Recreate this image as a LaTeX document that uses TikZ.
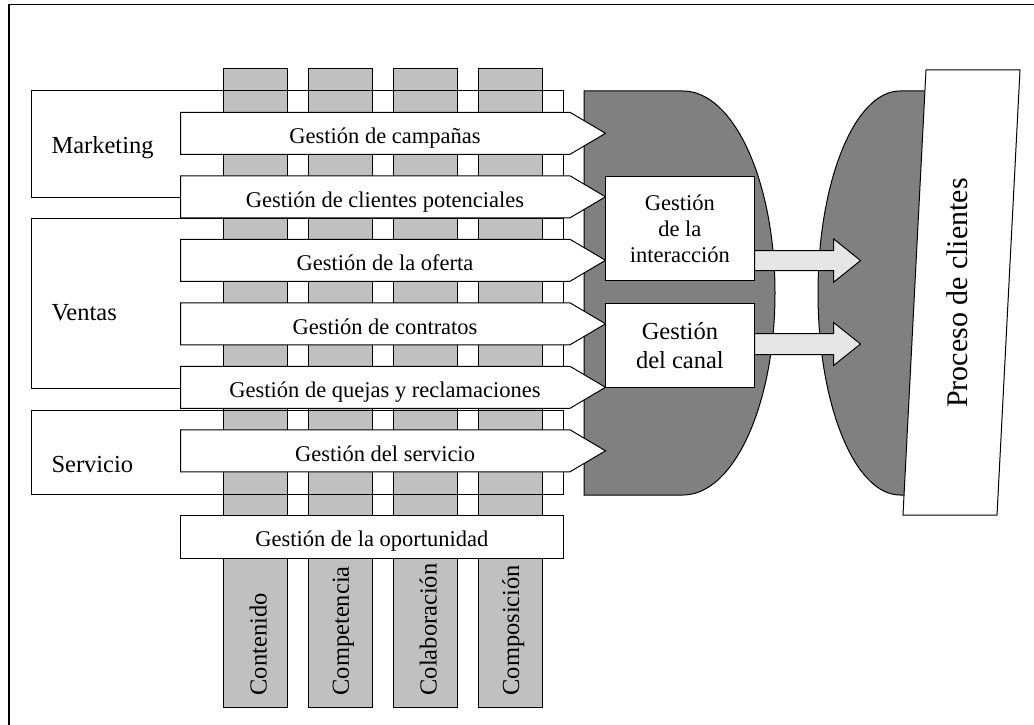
\documentclass[tikz,border=0pt]{standalone}
\usepackage{fontspec}
\setmainfont{Liberation Serif}
\definecolor{colfill}{HTML}{C0C0C0}
\definecolor{darkfill}{HTML}{808080}
\definecolor{arrowfill}{HTML}{E6E6E6}
\begin{document}
\begin{tikzpicture}[x=1pt,y=-1pt,line width=1pt,
  col/.style={draw,fill=colfill},
  dark/.style={draw,fill=darkfill},
  pent/.style={draw,fill=white},
  blockarrow/.style={draw,fill=arrowfill},
  lbl/.style={font=\fontsize{22.5}{26}\selectfont,anchor=base,inner sep=0pt},
  big/.style={font=\fontsize{24.5}{29}\selectfont,inner sep=0pt}]
\useasboundingbox (0,0) rectangle (1034,725);
% frame
\draw[line width=1.3pt] (9,725) -- (9,4.5) -- (1034,4.5);
% columns
\draw[col] (223.3,69) rectangle ++(64,638.3);
\draw[col] (308.3,69) rectangle ++(64,638.3);
\draw[col] (393.3,69) rectangle ++(64,638.3);
\draw[col] (478.3,69) rectangle ++(64,638.3);
\node[big,rotate=90,anchor=west] (cont) at (258.3,696) {Contenido};
\node[big,rotate=90,anchor=west] (compet) at (343.3,696) {Competencia};
\node[big,rotate=90,anchor=west] (colab) at (428.3,696) {Colaboración};
\node[big,rotate=90,anchor=west] (compo) at (513.3,696) {Composición};
% areas
\draw (31.7,91) rectangle (563.3,197.7);
\draw (31.7,218.3) rectangle (563.3,388.3);
\draw (31.7,410) rectangle (563.3,494.5);
\node[big,anchor=base west] (mkt) at (51,153.3) {Marketing};
\node[big,anchor=base west] (vent) at (51,320.7) {Ventas};
\node[big,anchor=base west] (servi) at (51,472.7) {Servicio};
% channel shapes
\draw[dark] (584,91) -- (683,91) arc[start angle=-90,end angle=90,x radius=92,y radius=202] -- (584,495) -- cycle;
\draw[dark] (940,91) -- (900,91) arc[start angle=-90,end angle=-270,x radius=82,y radius=202] -- (940,495) -- cycle;
% process arrows
\draw[pent] (180.5,112.3) -- (570,112.3) -- (605.5,133.3) -- (570,154.3) -- (180.5,154.3) -- cycle;
\node[lbl] (camp) at (385,143.5) {Gestión de campañas};
\draw[pent] (180.5,175.8) -- (570,175.8) -- (605.5,196.8) -- (570,217.8) -- (180.5,217.8) -- cycle;
\node[lbl] (clien) at (385,207) {Gestión de clientes potenciales};
\draw[pent] (180.5,239.3) -- (570,239.3) -- (605.5,260.3) -- (570,281.3) -- (180.5,281.3) -- cycle;
\node[lbl] (ofer) at (385,270.5) {Gestión de la oferta};
\draw[pent] (180.5,302.8) -- (570,302.8) -- (605.5,323.8) -- (570,344.8) -- (180.5,344.8) -- cycle;
\node[lbl] (contr) at (385,334) {Gestión de contratos};
\draw[pent] (180.5,366.3) -- (570,366.3) -- (605.5,387.3) -- (570,408.3) -- (180.5,408.3) -- cycle;
\node[lbl] (quej) at (385,397.5) {Gestión de quejas y reclamaciones};
\draw[pent] (180.5,429.8) -- (570,429.8) -- (605.5,450.8) -- (570,471.8) -- (180.5,471.8) -- cycle;
\node[lbl] (serv) at (385,461) {Gestión del servicio};
\draw[pent] (180.5,515) rectangle (563.3,558.3);
\node[lbl] (oport) at (371.9,546.3) {Gestión de la oportunidad};
% interaction and channel
\node[draw,fill=white,minimum width=148.3,minimum height=104.7,align=center,
  font=\fontsize{22.5}{26}\selectfont] (inter) at (679.9,228.4) {Gestión\\de la\\interacción};
\node[draw,fill=white,minimum width=148.3,minimum height=84,align=center,
  font=\fontsize{24.5}{29}\selectfont] (canal) at (679.9,345.3) {Gestión\\del canal};
\draw[blockarrow] (inter.south east) ++(0,-10.7) -- ++(79,0) -- ++(0,11.7) -- ++(27,-21.7) -- ++(-27,-21.7) -- ++(0,11.7) -- ++(-79,0) -- cycle;
\draw[blockarrow] (canal.north east) ++(0,51.7) -- ++(79,0) -- ++(0,11) -- ++(27,-21.5) -- ++(-27,-21.5) -- ++(0,11) -- ++(-79,0) -- cycle;
% customer process
\draw[pent] (926,70) -- (1020,70) -- (997,515) -- (903,515) -- cycle;
\node[rotate=90,inner sep=0pt,font=\fontsize{30}{36}\selectfont] (proc) at (957,293) {Proceso de clientes};
\end{tikzpicture}
\end{document}
